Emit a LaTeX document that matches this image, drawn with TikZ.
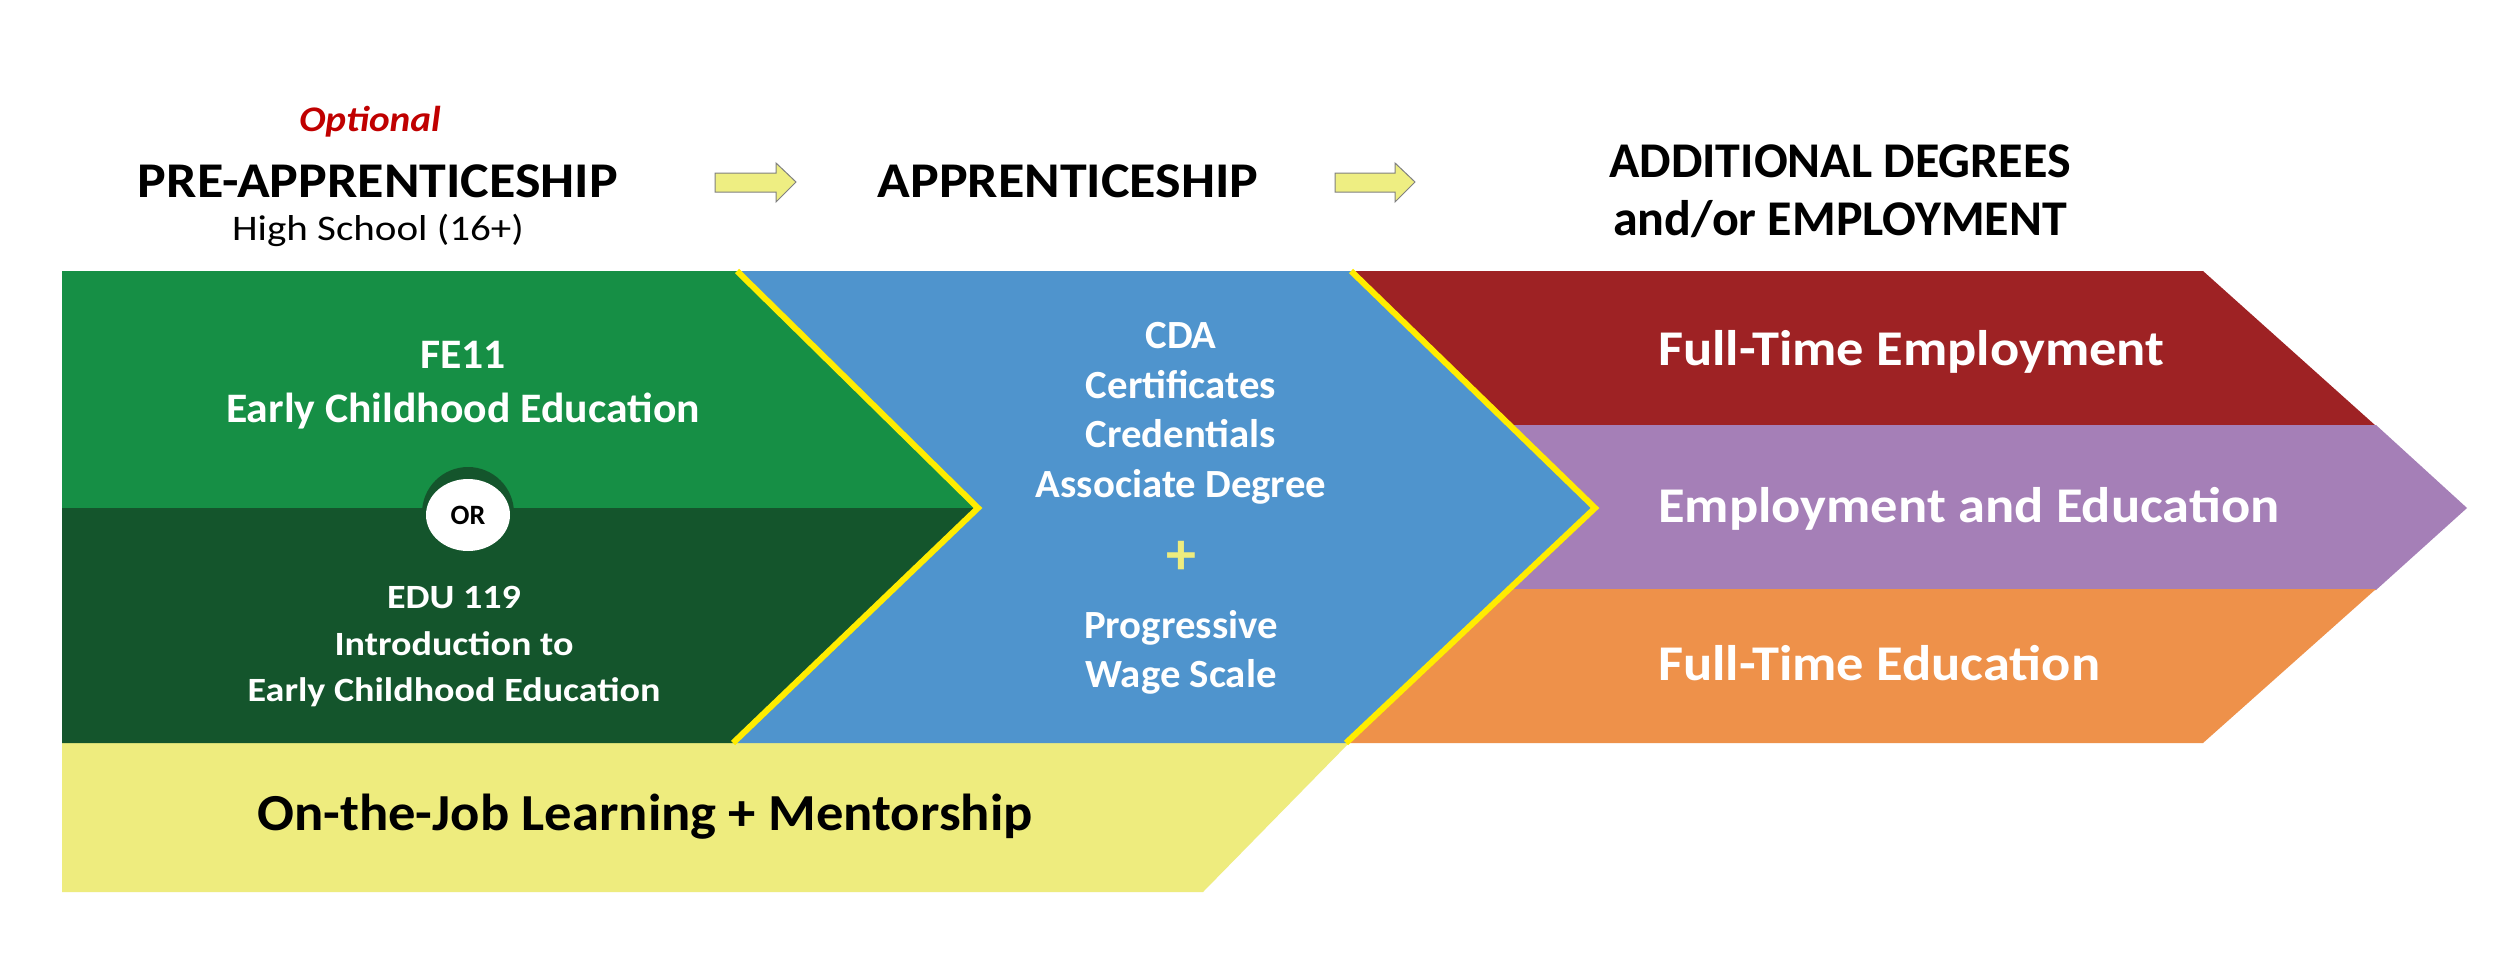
\documentclass[tikz,border=0pt]{standalone}
\usepackage{fontspec}
\usepackage{graphicx}
\setmainfont{Carlito}
\newcommand{\xs}[2]{\scalebox{#1}[1]{#2}}
\definecolor{gup}{RGB}{22,143,69}
\definecolor{gdn}{RGB}{20,85,44}
\definecolor{bl}{RGB}{79,148,205}
\definecolor{rd}{RGB}{158,34,36}
\definecolor{pu}{RGB}{165,127,183}
\definecolor{orr}{RGB}{238,145,74}
\definecolor{lyel}{RGB}{238,236,126}
\definecolor{byel}{RGB}{255,236,0}
\definecolor{optred}{RGB}{192,0,0}
\definecolor{arrfill}{RGB}{238,238,130}
\tikzset{
  txt/.style={inner sep=0pt, anchor=base},
  hdr/.style={txt, font=\fontsize{50}{60}\selectfont\bfseries},
  gtxt/.style={txt, text=white, font=\fontsize{42}{50}\selectfont\bfseries},
  gtxts/.style={txt, text=white, font=\fontsize{34}{42}\selectfont\bfseries},
  btxt/.style={txt, text=white, font=\fontsize{40}{48}\selectfont\bfseries},
  rtxt/.style={inner sep=0pt, anchor=base west, text=white, font=\fontsize{50}{60}\selectfont\bfseries},
  ybord/.style={draw=byel, line width=6pt, line join=miter},
  arr/.style={fill=arrfill, draw=gray, line width=1pt},
}
\begin{document}
\begin{tikzpicture}[x=1pt,y=-1pt]
\fill[white] (0,0) rectangle (2500,961);
\useasboundingbox (0,0) rectangle (2500,961);
% right chevron bands
\fill[rd] (1300,271) -- (2203,271) -- (2376,426) -- (1300,426) -- cycle;
\fill[pu] (1300,425) -- (2376,425) -- (2467,508) -- (2376,590) -- (1300,590) -- cycle;
\fill[orr] (1300,589) -- (2376,589) -- (2203,743) -- (1300,743) -- cycle;
% bottom band
\fill[lyel] (62,742) -- (1350,742) -- (1203,892) -- (62,892) -- cycle;
% green
\fill[gup] (62,271) -- (737,271) -- (978,508) -- (62,508) -- cycle;
\fill[gdn] (62,508) -- (978,508) -- (733,743) -- (62,743) -- cycle;
% blue
\fill[bl] (737,271) -- (1351,271) -- (1595,508) -- (1346,743) -- (733,743) -- (978,508) -- cycle;
\draw[ybord] (737,271) -- (978,508) -- (733,743);
\draw[ybord] (1351,271) -- (1595,508) -- (1346,743);
% header arrows
\draw[arr] (715,173) -- (776,173) -- (776,163) -- (796,182) -- (776,202) -- (776,192) -- (715,192) -- cycle;
\draw[arr] (1335,173) -- (1395,173) -- (1395,163) -- (1415,182) -- (1395,202) -- (1395,192) -- (1335,192) -- cycle;
% headers
\node[txt, text=optred, font=\fontsize{36}{40}\selectfont\bfseries\itshape] (opt) at (370,131) {\xs{1.09}{Optional}};
\node[hdr] (pre) at (378,197) {\xs{1.08}{PRE-APPRENTICESHIP}};
\node[txt, font=\fontsize{36}{40}\selectfont] (hs) at (378,240) {\xs{1.14}{High School (16+)}};
\node[hdr] (app) at (1068,197) {\xs{1.08}{APPRENTICESHIP}};
\node[hdr] (add1) at (1840,177) {ADDITIONAL DEGREES};
\node[hdr] (add2) at (1840,235) {and/or EMPLOYMENT};
% green texts
\node[gtxt] (fe) at (463,368) {\xs{1.04}{FE11}};
\node[gtxt] (ece1) at (463,422) {\xs{1.04}{Early Childhood Education}};
\fill[gdn] (468,513) circle[radius=46];
\fill[white] (468,515) ellipse[x radius=42, y radius=36];
\node[inner sep=0pt, font=\fontsize{28}{30}\selectfont\bfseries] (or) at (468,515) {OR};
\node[gtxts] (edu) at (454,608) {\xs{1.12}{EDU 119}};
\node[gtxts] (intro) at (454,655) {\xs{1.12}{Introduction to}};
\node[gtxts] (ece2) at (454,701) {\xs{1.12}{Early Childhood Education}};
% blue texts
\node[btxt] (cda) at (1181,348) {\xs{1.02}{CDA}};
\node[btxt] (cert) at (1181,398) {\xs{1.02}{Certificates}};
\node[btxt] (cred) at (1181,447) {\xs{1.02}{Credentials}};
\node[btxt] (assoc) at (1181,497) {\xs{1.02}{Associate Degree}};
\node[inner sep=0pt, text=lyel, font=\fontsize{60}{60}\selectfont\bfseries] (plus) at (1181,558) {+};
\node[btxt] (prog) at (1181,638) {\xs{1.02}{Progressive}};
\node[btxt] (wage) at (1181,687) {\xs{1.02}{Wage Scale}};
% right texts
\node[rtxt] (fte) at (1658,365) {\xs{1.09}{Full-Time Employment}};
\node[rtxt] (ee) at (1658,522) {\xs{1.09}{Employment and Education}};
\node[rtxt] (ftd) at (1658,680) {\xs{1.09}{Full-Time Education}};
% bottom
\node[txt, font=\fontsize{52}{60}\selectfont\bfseries] (ojl) at (645,830) {\xs{1.05}{On-the-Job Learning + Mentorship}};
\end{tikzpicture}
\end{document}
